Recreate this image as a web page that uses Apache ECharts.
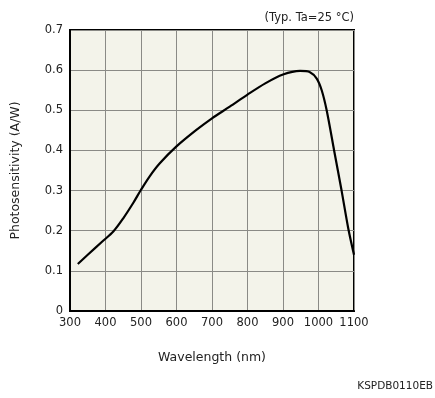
<!DOCTYPE html>
<html>
<head>
<meta charset="utf-8">
<script src="https://cdn.jsdelivr.net/npm/echarts@6/dist/echarts.min.js"></script>
<style>
  html, body { margin: 0; padding: 0; background: #fff; }
  #chart { width: 435px; height: 398px; }
</style>
</head>
<body>
<div id="chart"></div>
<script>
// wavelength (nm) / photosensitivity (A/W)
var wavelength = [322, 350, 391, 422, 450, 478, 500, 524, 553, 600, 656, 700, 750, 800, 850, 900, 948, 976, 995, 1009, 1023, 1044, 1065, 1084, 1100];
var sensitivity = [0.117, 0.14, 0.173, 0.198, 0.231, 0.269, 0.302, 0.335, 0.368, 0.41, 0.451, 0.48, 0.509, 0.539, 0.567, 0.589, 0.598, 0.595, 0.579, 0.55, 0.50, 0.40, 0.30, 0.205, 0.14];
var xTicks = [300, 1100, 100];
var yTicks = [0, 0.7, 0.1];

var dom = document.getElementById("chart");
var myChart = echarts.init(dom);
var font = 'DejaVu Sans';

var points = wavelength.map(function (w, i) { return [w, sensitivity[i]]; });

var option = {
    backgroundColor: '#ffffff',
    animation: false,
    textStyle: { fontFamily: font },
    grid: {
        left: 70, right: 81, top: 30, bottom: 87,
        show: true,
        backgroundColor: '#f3f3ea',
        borderColor: '#000',
        borderWidth: 2
    },
    graphic: [
        {
            type: 'text', right: 81, top: 12,
            style: { text: '(Typ. Ta=25 °C)', font: '11.5px "DejaVu Sans"', fill: '#222', textAlign: 'right' }
        },
        {
            type: 'text', right: 2, top: 381,
            style: { text: 'KSPDB0110EB', font: '10.5px "DejaVu Sans"', fill: '#222' }
        }
    ],
    xAxis: {
        type: 'value',
        min: xTicks[0], max: xTicks[1], interval: xTicks[2],
        name: 'Wavelength (nm)',
        nameLocation: 'middle',
        nameGap: 40,
        nameTextStyle: { fontSize: 12.5, color: '#222', fontFamily: font },
        axisLine: { show: true, lineStyle: { color: '#000', width: 2 } },
        axisTick: { show: false },
        axisLabel: {
            fontSize: 11.5, color: '#222', margin: 6, fontFamily: font,
            formatter: function (v) { return String(v); }
        },
        splitLine: { show: true, lineStyle: { color: '#8a8a86', width: 1 } }
    },
    yAxis: {
        type: 'value',
        min: yTicks[0], max: yTicks[1], interval: yTicks[2],
        name: 'Photosensitivity (A/W)',
        nameLocation: 'middle',
        nameGap: 48,
        nameTextStyle: { fontSize: 12.5, color: '#222', fontFamily: font },
        axisLine: { show: true, lineStyle: { color: '#000', width: 2 } },
        axisTick: { show: false },
        axisLabel: { fontSize: 11.5, color: '#222', margin: 7, fontFamily: font },
        splitLine: { show: true, lineStyle: { color: '#8a8a86', width: 1 } }
    },
    series: [
        {
            type: 'line',
            data: points,
            smooth: 0.3,
            showSymbol: false,
            lineStyle: { color: '#000', width: 2.2 }
        }
    ]
};

myChart.setOption(option, true);
</script>
</body>
</html>
